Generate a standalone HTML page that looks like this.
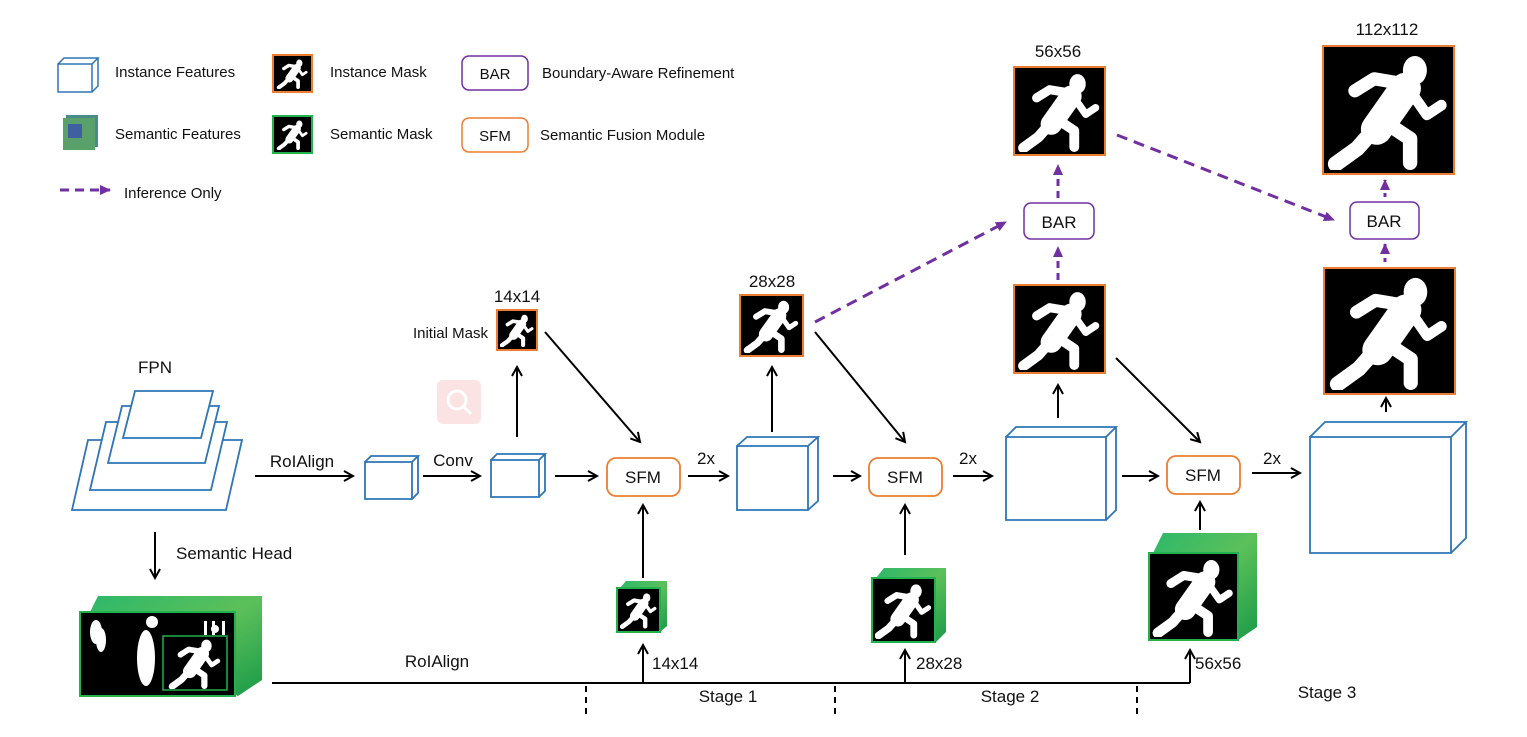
<!DOCTYPE html>
<html><head><meta charset="utf-8"><style>
html,body{margin:0;padding:0;background:#fff}
svg{display:block}
text{font-family:"Liberation Sans",sans-serif;fill:#111}
</style></head><body>
<svg width="1527" height="737" viewBox="0 0 1527 737" xmlns="http://www.w3.org/2000/svg">
<defs>
<marker id="ah" markerWidth="12" markerHeight="12" refX="10" refY="6" orient="auto" markerUnits="userSpaceOnUse"><path d="M1,1 L10,6 L1,11" fill="none" stroke="#000" stroke-width="2"/></marker>
<marker id="ph" markerWidth="12" markerHeight="12" refX="10" refY="6" orient="auto" markerUnits="userSpaceOnUse"><path d="M0,1 L11,6 L0,11 Z" fill="#7030a0"/></marker>
<linearGradient id="gr" x1="0" y1="0" x2="1" y2="1"><stop offset="0" stop-color="#2db86a"/><stop offset="0.5" stop-color="#5cc05a"/><stop offset="1" stop-color="#1a9a48"/></linearGradient>
<symbol id="run" viewBox="0 0 100 100">
<rect width="100" height="100" fill="#000"/>
<g stroke="#fff" stroke-linecap="round" stroke-linejoin="round" fill="none">
<ellipse cx="72" cy="17" rx="10" ry="12" fill="#fff" stroke="none"/>
<path d="M64,32 L40,66" stroke-width="26"/>
<path d="M62,28 L38,24 L22,34" stroke-width="11"/>
<path d="M68,34 L82,54 L94,46" stroke-width="9"/>
<path d="M40,64 L24,82 L6,95" stroke-width="13"/>
<path d="M50,62 L68,74 L68,94" stroke-width="12"/>
</g>
</symbol>
</defs>

<!-- Legend -->
<g fill="none" stroke="#2e75b6" stroke-width="1.5">
<path d="M58,64 h34 v28 h-34 z M58,64 l6,-6 h34 l-6,6 M92,92 l6,-6 v-28"/>
</g>
<text x="115" y="77" font-size="15">Instance Features</text>
<rect x="66" y="115" width="32" height="32" fill="#4a8a8a"/>
<rect x="63" y="118" width="32" height="32" fill="#5aa06a"/>
<rect x="68" y="124" width="14" height="14" fill="#3f5fa0"/>
<text x="115" y="139" font-size="15">Semantic Features</text>
<rect x="273" y="55" width="39" height="37" fill="#000" stroke="#ed7d31" stroke-width="2"/>
<use href="#run" x="276" y="58" width="33" height="31"/>
<text x="330" y="77" font-size="15">Instance Mask</text>
<rect x="273" y="116" width="39" height="37" fill="#000" stroke="#22b14c" stroke-width="2"/>
<use href="#run" x="276" y="119" width="33" height="31"/>
<text x="330" y="139" font-size="15">Semantic Mask</text>
<rect x="462" y="56" width="66" height="34" rx="7" fill="#fff" stroke="#7030a0" stroke-width="1.5"/>
<text x="495" y="79" font-size="15" text-anchor="middle">BAR</text>
<text x="542" y="78" font-size="15">Boundary-Aware Refinement</text>
<rect x="462" y="118" width="66" height="34" rx="7" fill="#fff" stroke="#ed7d31" stroke-width="1.5"/>
<text x="495" y="141" font-size="15" text-anchor="middle">SFM</text>
<text x="540" y="140" font-size="15">Semantic Fusion Module</text>
<line x1="60" y1="190" x2="110" y2="190" stroke="#7030a0" stroke-width="3" stroke-dasharray="9,6" marker-end="url(#ph)"/>
<text x="124" y="198" font-size="15">Inference Only</text>

<!-- FPN -->
<text x="155" y="373" font-size="17" text-anchor="middle">FPN</text>
<g fill="#fff" stroke="#2e75b6" stroke-width="1.8">
<path d="M88,440 L242,440 L226,510 L72,510 Z"/>
<path d="M106,422 L227,422 L211,490 L90,490 Z"/>
<path d="M122,406 L219,406 L205,463 L108,463 Z"/>
<path d="M135,391 L213,391 L201,438 L123,438 Z"/>
</g>
<line x1="255" y1="476" x2="353" y2="476" stroke="#000" stroke-width="2" marker-end="url(#ah)"/>
<text x="302" y="467" font-size="17" text-anchor="middle">RoIAlign</text>
<line x1="155" y1="532" x2="155" y2="578" stroke="#000" stroke-width="2" marker-end="url(#ah)"/>
<text x="176" y="559" font-size="17">Semantic Head</text>

<!-- semantic image -->
<path d="M90,612 L98,596 L262,596 L262,680 L238,696 Z" fill="url(#gr)"/>
<rect x="80" y="612" width="155" height="84" fill="#000" stroke="#22b14c" stroke-width="2"/>
<g fill="#fff"><ellipse cx="96" cy="632" rx="6" ry="12"/><ellipse cx="101" cy="640" rx="5" ry="12"/><ellipse cx="146" cy="658" rx="9" ry="28"/><circle cx="152" cy="622" r="6"/><circle cx="215" cy="629" r="4"/><rect x="204" y="621" width="3" height="14"/><rect x="212" y="621" width="3" height="14"/><rect x="222" y="621" width="3" height="14"/></g>
<use href="#run" x="164" y="637" width="62" height="52"/>
<rect x="163" y="636" width="64" height="54" fill="none" stroke="#22b14c" stroke-width="1.5"/>

<!-- bottom line -->
<path d="M272,683 H1190" stroke="#000" stroke-width="2" fill="none"/>
<text x="437" y="667" font-size="17" text-anchor="middle">RoIAlign</text>
<g stroke="#000" stroke-width="2" stroke-dasharray="6,5"><line x1="586" y1="686" x2="586" y2="716"/><line x1="835" y1="686" x2="835" y2="716"/><line x1="1137" y1="686" x2="1137" y2="716"/></g>
<text x="728" y="702" font-size="17" text-anchor="middle">Stage 1</text>
<text x="1010" y="702" font-size="17" text-anchor="middle">Stage 2</text>
<text x="1327" y="698" font-size="17" text-anchor="middle">Stage 3</text>

<!-- cubes -->
<g fill="#fff" stroke="#2e75b6" stroke-width="1.8">
<path d="M365,462 h47 v37 h-47 z M365,462 l6,-6 h47 l-6,6 M412,499 l6,-6 v-37"/>
<path d="M491,460 h48 v37 h-48 z M491,460 l6,-6 h48 l-6,6 M539,497 l6,-6 v-37"/>
<path d="M737,446 h71 v64 h-71 z M737,446 l10,-9 h71 l-10,9 M808,510 l10,-9 v-64"/>
<path d="M1006,437 h100 v83 h-100 z M1006,437 l10,-10 h100 l-10,10 M1106,520 l10,-10 v-83"/>
<path d="M1310,437 h141 v116 h-141 z M1310,437 l15,-15 h141 l-15,15 M1451,553 l15,-15 v-116"/>
</g>
<line x1="423" y1="476" x2="480" y2="476" stroke="#000" stroke-width="2" marker-end="url(#ah)"/>
<text x="453" y="466" font-size="17" text-anchor="middle">Conv</text>

<!-- pink icon -->
<rect x="437" y="380" width="44" height="44" rx="6" fill="#fbe3e3"/>
<circle cx="457" cy="400" r="9" fill="none" stroke="#fff" stroke-width="3"/>
<line x1="464" y1="407" x2="471" y2="414" stroke="#fff" stroke-width="3"/>

<!-- Stage 1 -->
<line x1="517" y1="437" x2="517" y2="367" stroke="#000" stroke-width="2" marker-end="url(#ah)"/>
<rect x="497" y="310" width="40" height="40" fill="#000" stroke="#ed7d31" stroke-width="2"/>
<use href="#run" x="500" y="313" width="34" height="34"/>
<text x="517" y="302" font-size="17" text-anchor="middle">14x14</text>
<text x="488" y="338" font-size="15" text-anchor="end">Initial Mask</text>
<line x1="545" y1="332" x2="640" y2="442" stroke="#000" stroke-width="2" marker-end="url(#ah)"/>
<line x1="555" y1="476" x2="597" y2="476" stroke="#000" stroke-width="2" marker-end="url(#ah)"/>
<rect x="607" y="458" width="73" height="38" rx="9" fill="#fff" stroke="#ed7d31" stroke-width="1.8"/>
<text x="643" y="483" font-size="17" text-anchor="middle">SFM</text>
<line x1="643" y1="578" x2="643" y2="505" stroke="#000" stroke-width="2" marker-end="url(#ah)"/>
<path d="M620,588 L626,581 L667,581 L667,626 L660,632 Z" fill="url(#gr)"/>
<rect x="617" y="588" width="43" height="44" fill="#000" stroke="#22b14c" stroke-width="2"/>
<use href="#run" x="620" y="591" width="37" height="38"/>
<line x1="643" y1="683" x2="643" y2="645" stroke="#000" stroke-width="2" marker-end="url(#ah)"/>
<text x="652" y="669" font-size="17">14x14</text>
<text x="706" y="464" font-size="17" text-anchor="middle">2x</text>
<line x1="688" y1="476" x2="728" y2="476" stroke="#000" stroke-width="2" marker-end="url(#ah)"/>

<!-- Stage 2 -->
<line x1="772" y1="432" x2="772" y2="367" stroke="#000" stroke-width="2" marker-end="url(#ah)"/>
<rect x="740" y="295" width="63" height="61" fill="#000" stroke="#ed7d31" stroke-width="2"/>
<use href="#run" x="743" y="298" width="57" height="55"/>
<text x="772" y="287" font-size="17" text-anchor="middle">28x28</text>
<line x1="815" y1="322" x2="1006" y2="222" stroke="#7030a0" stroke-width="3" stroke-dasharray="11,7" marker-end="url(#ph)"/>
<line x1="815" y1="332" x2="905" y2="442" stroke="#000" stroke-width="2" marker-end="url(#ah)"/>
<line x1="833" y1="476" x2="860" y2="476" stroke="#000" stroke-width="2" marker-end="url(#ah)"/>
<rect x="869" y="458" width="73" height="38" rx="9" fill="#fff" stroke="#ed7d31" stroke-width="1.8"/>
<text x="905" y="483" font-size="17" text-anchor="middle">SFM</text>
<line x1="905" y1="555" x2="905" y2="505" stroke="#000" stroke-width="2" marker-end="url(#ah)"/>
<path d="M876,578 L884,568 L946,568 L946,632 L936,642 Z" fill="url(#gr)"/>
<rect x="872" y="578" width="63" height="64" fill="#000" stroke="#22b14c" stroke-width="2"/>
<use href="#run" x="875" y="581" width="57" height="58"/>
<line x1="905" y1="683" x2="905" y2="650" stroke="#000" stroke-width="2" marker-end="url(#ah)"/>
<text x="916" y="669" font-size="17">28x28</text>
<text x="968" y="464" font-size="17" text-anchor="middle">2x</text>
<line x1="953" y1="476" x2="992" y2="476" stroke="#000" stroke-width="2" marker-end="url(#ah)"/>

<!-- Stage 3 -->
<line x1="1058" y1="418" x2="1058" y2="385" stroke="#000" stroke-width="2" marker-end="url(#ah)"/>
<rect x="1014" y="285" width="91" height="88" fill="#000" stroke="#ed7d31" stroke-width="2"/>
<use href="#run" x="1017" y="288" width="85" height="82"/>
<line x1="1058" y1="280" x2="1058" y2="247" stroke="#7030a0" stroke-width="3" stroke-dasharray="7,5" marker-end="url(#ph)"/>
<rect x="1024" y="203" width="70" height="36" rx="7" fill="#fff" stroke="#7030a0" stroke-width="1.5"/>
<text x="1059" y="228" font-size="17" text-anchor="middle">BAR</text>
<line x1="1058" y1="198" x2="1058" y2="165" stroke="#7030a0" stroke-width="3" stroke-dasharray="7,5" marker-end="url(#ph)"/>
<rect x="1014" y="67" width="91" height="88" fill="#000" stroke="#ed7d31" stroke-width="2"/>
<use href="#run" x="1017" y="70" width="85" height="82"/>
<text x="1058" y="57" font-size="17" text-anchor="middle">56x56</text>
<line x1="1117" y1="135" x2="1334" y2="220" stroke="#7030a0" stroke-width="3" stroke-dasharray="11,7" marker-end="url(#ph)"/>
<line x1="1116" y1="358" x2="1200" y2="442" stroke="#000" stroke-width="2" marker-end="url(#ah)"/>
<line x1="1122" y1="476" x2="1158" y2="476" stroke="#000" stroke-width="2" marker-end="url(#ah)"/>
<rect x="1167" y="456" width="73" height="38" rx="9" fill="#fff" stroke="#ed7d31" stroke-width="1.8"/>
<text x="1203" y="481" font-size="17" text-anchor="middle">SFM</text>
<line x1="1200" y1="530" x2="1200" y2="502" stroke="#000" stroke-width="2" marker-end="url(#ah)"/>
<path d="M1153,553 L1163,533 L1257,533 L1257,627 L1238,640 Z" fill="url(#gr)"/>
<rect x="1149" y="553" width="89" height="87" fill="#000" stroke="#22b14c" stroke-width="2"/>
<use href="#run" x="1152" y="556" width="83" height="81"/>
<line x1="1190" y1="683" x2="1190" y2="650" stroke="#000" stroke-width="2" marker-end="url(#ah)"/>
<text x="1195" y="669" font-size="17">56x56</text>
<text x="1272" y="464" font-size="17" text-anchor="middle">2x</text>
<line x1="1252" y1="473" x2="1300" y2="473" stroke="#000" stroke-width="2" marker-end="url(#ah)"/>

<line x1="1386" y1="412" x2="1386" y2="398" stroke="#000" stroke-width="2" marker-end="url(#ah)"/>
<rect x="1324" y="268" width="131" height="126" fill="#000" stroke="#ed7d31" stroke-width="2"/>
<use href="#run" x="1328" y="272" width="123" height="118"/>
<line x1="1385" y1="262" x2="1385" y2="244" stroke="#7030a0" stroke-width="3" stroke-dasharray="4,4" marker-end="url(#ph)"/>
<rect x="1350" y="202" width="69" height="37" rx="7" fill="#fff" stroke="#7030a0" stroke-width="1.5"/>
<text x="1384" y="227" font-size="17" text-anchor="middle">BAR</text>
<line x1="1385" y1="197" x2="1385" y2="180" stroke="#7030a0" stroke-width="3" stroke-dasharray="4,4" marker-end="url(#ph)"/>
<rect x="1323" y="46" width="131" height="128" fill="#000" stroke="#ed7d31" stroke-width="2"/>
<use href="#run" x="1327" y="50" width="123" height="120"/>
<text x="1387" y="35" font-size="17" text-anchor="middle">112x112</text>
</svg>
</body></html>
